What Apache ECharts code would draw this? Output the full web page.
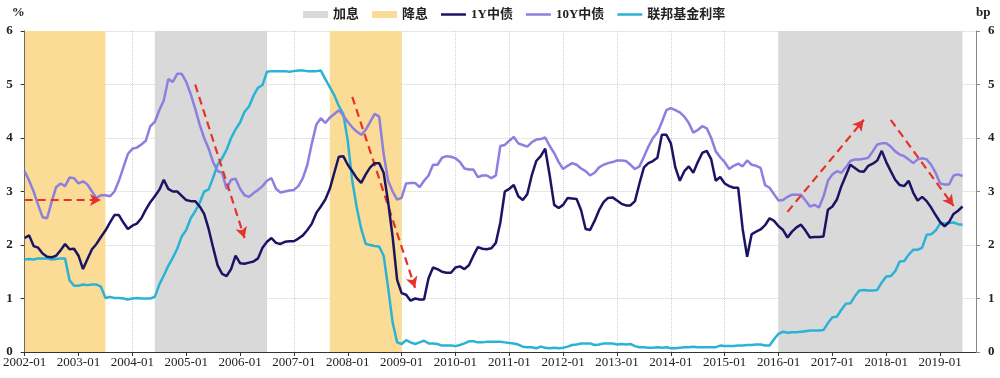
<!DOCTYPE html>
<html><head><meta charset="utf-8">
<script src="https://cdn.jsdelivr.net/npm/echarts@6/dist/echarts.min.js"></script>
<style>html,body{margin:0;padding:0;background:#fff}#c{width:1000px;height:378px}</style>
</head><body><div id="c"></div>
<script>
// monthly categories 2002-01 .. 2019-09 (axis runs a little past the last data month)
const months = [];
for (let y = 2002; y <= 2019; y++) {
  for (let m = 1; m <= 12; m++) {
    if (y === 2019 && m > 9) break;
    months.push(y + '-' + String(m).padStart(2, '0'));
  }
}

// 1Y China government bond yield (%), monthly from 2002-01
const cny1y = [
  2.13,2.18,1.98,1.95,1.84,1.78,1.77,1.80,1.90,2.02,1.92,1.93, // 2002
  1.80,1.55,1.74,1.92,2.02,2.15,2.27,2.42,2.56,2.56,2.42,2.30, // 2003
  2.36,2.40,2.50,2.66,2.80,2.91,3.03,3.22,3.05,3.00,3.00,2.92, // 2004
  2.84,2.82,2.82,2.72,2.58,2.30,1.95,1.62,1.46,1.42,1.55,1.80, // 2005
  1.66,1.65,1.67,1.69,1.75,1.95,2.06,2.13,2.04,2.02,2.06,2.07, // 2006
  2.07,2.12,2.18,2.28,2.40,2.60,2.72,2.85,3.05,3.35,3.65,3.66, // 2007
  3.50,3.38,3.25,3.16,3.32,3.45,3.53,3.53,3.35,2.80,2.15,1.35, // 2008
  1.10,1.07,0.96,1.00,0.98,0.98,1.38,1.58,1.55,1.50,1.48,1.48, // 2009
  1.58,1.60,1.55,1.62,1.80,1.96,1.93,1.92,1.94,2.04,2.42,3.00, // 2010
  3.05,3.12,2.91,2.84,2.95,3.30,3.57,3.66,3.80,3.30,2.75,2.69, // 2011
  2.75,2.88,2.87,2.86,2.65,2.30,2.28,2.45,2.65,2.80,2.88,2.89, // 2012
  2.83,2.77,2.74,2.74,2.82,3.15,3.45,3.53,3.57,3.63,4.06,4.06, // 2013
  3.90,3.45,3.20,3.38,3.47,3.35,3.55,3.72,3.76,3.60,3.20,3.27, // 2014
  3.15,3.10,3.07,3.07,2.30,1.78,2.20,2.25,2.29,2.37,2.50,2.45, // 2015
  2.35,2.28,2.14,2.25,2.33,2.38,2.27,2.14,2.15,2.15,2.16,2.66, // 2016
  2.72,2.85,3.10,3.30,3.50,3.44,3.38,3.37,3.48,3.52,3.58,3.76, // 2017
  3.55,3.38,3.22,3.12,3.10,3.20,2.98,2.83,2.90,2.82,2.70,2.56, // 2018
  2.43,2.35,2.43,2.58,2.64,2.72                                // 2019
];

// 10Y China government bond yield (%)
const cny10y = [
  3.38,3.20,3.00,2.75,2.52,2.50,2.80,3.08,3.15,3.10,3.26,3.25, // 2002
  3.15,3.19,3.13,3.00,2.88,2.93,2.93,2.91,3.00,3.20,3.45,3.70, // 2003
  3.80,3.82,3.88,3.95,4.22,4.30,4.52,4.70,5.10,5.05,5.20,5.20, // 2004
  5.05,4.82,4.55,4.25,4.00,3.80,3.55,3.38,3.35,3.05,3.22,3.24, // 2005
  3.05,2.93,2.90,2.97,3.03,3.10,3.20,3.25,3.05,2.98,3.00,3.02, // 2006
  3.03,3.10,3.25,3.50,3.90,4.25,4.37,4.28,4.38,4.45,4.52,4.42, // 2007
  4.30,4.20,4.12,4.06,4.15,4.30,4.45,4.40,3.70,3.20,3.00,2.85, // 2008
  2.88,3.15,3.16,3.16,3.08,3.20,3.30,3.50,3.50,3.63,3.66,3.65, // 2009
  3.62,3.55,3.43,3.41,3.41,3.27,3.30,3.30,3.25,3.30,3.85,3.87, // 2010
  3.95,4.02,3.90,3.87,3.84,3.92,3.97,3.98,4.01,3.85,3.72,3.55, // 2011
  3.42,3.48,3.53,3.50,3.43,3.38,3.30,3.35,3.45,3.50,3.53,3.55, // 2012
  3.58,3.58,3.57,3.50,3.42,3.47,3.65,3.84,4.00,4.10,4.30,4.52, // 2013
  4.56,4.52,4.48,4.40,4.28,4.10,4.15,4.22,4.18,4.00,3.75,3.64, // 2014
  3.55,3.42,3.48,3.52,3.47,3.58,3.50,3.48,3.44,3.12,3.07,2.95, // 2015
  2.83,2.84,2.90,2.94,2.94,2.94,2.83,2.72,2.75,2.70,2.90,3.20, // 2016
  3.32,3.38,3.35,3.45,3.57,3.60,3.60,3.61,3.63,3.75,3.88,3.90, // 2017
  3.90,3.84,3.75,3.69,3.66,3.60,3.53,3.60,3.62,3.60,3.50,3.35, // 2018
  3.15,3.13,3.13,3.30,3.32,3.29                                // 2019
];

// Federal funds rate (%)
const fedFunds = [
  1.73,1.74,1.73,1.75,1.75,1.75,1.73,1.74,1.75,1.75,1.34,1.24, // 2002
  1.24,1.26,1.25,1.26,1.26,1.22,1.01,1.03,1.01,1.01,1.00,0.98, // 2003
  1.00,1.01,1.00,1.00,1.00,1.03,1.26,1.43,1.61,1.76,1.93,2.16, // 2004
  2.28,2.50,2.63,2.79,3.00,3.04,3.26,3.50,3.62,3.78,4.00,4.16, // 2005
  4.29,4.49,4.59,4.79,4.94,4.99,5.24,5.25,5.25,5.25,5.25,5.24, // 2006
  5.25,5.26,5.26,5.25,5.25,5.25,5.26,5.10,4.95,4.80,4.60,4.45, // 2007
  3.95,3.20,2.70,2.30,2.02,2.00,1.98,1.97,1.80,1.20,0.55,0.18, // 2008
  0.15,0.22,0.18,0.15,0.18,0.21,0.16,0.16,0.15,0.12,0.12,0.12, // 2009
  0.11,0.13,0.16,0.20,0.20,0.18,0.18,0.19,0.19,0.19,0.19,0.18, // 2010
  0.17,0.16,0.14,0.10,0.09,0.09,0.07,0.10,0.08,0.07,0.08,0.07, // 2011
  0.08,0.10,0.13,0.14,0.16,0.16,0.16,0.13,0.14,0.16,0.16,0.16, // 2012
  0.14,0.15,0.14,0.15,0.11,0.09,0.09,0.08,0.08,0.09,0.08,0.09, // 2013
  0.07,0.07,0.08,0.09,0.09,0.10,0.09,0.09,0.09,0.09,0.09,0.12, // 2014
  0.11,0.11,0.11,0.12,0.12,0.13,0.13,0.14,0.14,0.12,0.12,0.24, // 2015
  0.34,0.38,0.36,0.37,0.37,0.38,0.39,0.40,0.40,0.40,0.41,0.54, // 2016
  0.65,0.66,0.79,0.90,0.91,1.04,1.15,1.16,1.15,1.15,1.16,1.30, // 2017
  1.41,1.42,1.51,1.69,1.70,1.82,1.91,1.91,1.95,2.19,2.20,2.27, // 2018
  2.40,2.40,2.41,2.42,2.39,2.38                                // 2019
];

// shaded periods
const hikePeriods = [['2004-06', '2006-07'], ['2016-01', '2019-06']];
const cutPeriods  = [['2002-01', '2003-07'], ['2007-09', '2009-01']];

// annotation arrows: [start month, start value] -> [end month, end value]
const arrowFrom = [['2002-01', 2.84], ['2005-03', 5.00], ['2008-02', 4.77], ['2016-03', 2.62], ['2018-02', 4.34]];
const arrowTo   = [['2003-06', 2.84], ['2006-02', 2.13], ['2009-04', 1.20], ['2017-08', 4.34], ['2019-04', 2.73]];

const C_HIKE = '#d9d9d9', C_CUT = '#fadc96';
const C_1Y = '#1b1464', C_10Y = '#8c7fe0', C_FED = '#2bb3d6';
const serif = '"Liberation Serif", "Times New Roman", serif';
const yearTick = (i) => i % 12 === 0;
const lineIcon = 'path://M0,0H10V1H0Z';

const chart = echarts.init(document.getElementById('c'), null, { renderer: 'canvas' });
chart.setOption({
  animation: false,
  backgroundColor: '#fff',
  grid: { left: 21, right: 24, top: 31, bottom: 26, containLabel: false },
  legend: {
    left: 298, top: 3, itemWidth: 25, itemHeight: 7, itemGap: 13,
    textStyle: { fontFamily: '"Liberation Serif", "Noto Sans CJK SC", serif', fontSize: 13, fontWeight: 'bold', color: '#222' },
    data: [
      { name: '加息', icon: 'rect' },
      { name: '降息', icon: 'rect' },
      { name: '1Y中债', icon: lineIcon },
      { name: '10Y中债', icon: lineIcon },
      { name: '联邦基金利率', icon: lineIcon }
    ]
  },
  xAxis: {
    type: 'category', data: months, boundaryGap: false,
    axisLine: { lineStyle: { color: '#333', width: 1 } },
    axisTick: { interval: yearTick, length: 4, lineStyle: { color: '#333' } },
    axisLabel: { interval: yearTick, margin: 4, fontFamily: serif, fontSize: 13, color: '#222' },
    splitLine: { show: true, interval: yearTick, lineStyle: { type: 'dotted', color: '#cfcfcf' } }
  },
  yAxis: [
    {
      type: 'value', min: 0, max: 6, interval: 1,
      name: '%', nameLocation: 'end', nameGap: 12,
      nameTextStyle: { align: 'right', fontFamily: serif, fontSize: 13, fontWeight: 'bold', color: '#222' },
      axisLine: { show: true, lineStyle: { color: '#333' } },
      axisTick: { show: true, length: 4, lineStyle: { color: '#333' } },
      axisLabel: { margin: 12, fontFamily: serif, fontSize: 13, fontWeight: 'bold', color: '#222' },
      splitLine: { show: true, lineStyle: { type: 'dotted', color: '#cfcfcf' } }
    },
    {
      type: 'value', min: 0, max: 6, interval: 1, position: 'right',
      name: 'bp', nameLocation: 'end', nameGap: 12,
      nameTextStyle: { align: 'left', fontFamily: serif, fontSize: 13, fontWeight: 'bold', color: '#222' },
      axisLine: { show: true, lineStyle: { color: '#888' } },
      axisTick: { show: true, length: 4, lineStyle: { color: '#888' } },
      axisLabel: { margin: 12, fontFamily: serif, fontSize: 13, fontWeight: 'bold', color: '#222' },
      splitLine: { show: false }
    }
  ],
  series: [
    {
      name: '加息', type: 'line', data: [], symbol: 'none',
      itemStyle: { color: C_HIKE }, lineStyle: { color: C_HIKE },
      markArea: { silent: true, itemStyle: { color: C_HIKE }, data: hikePeriods.map(p => [{ xAxis: p[0] }, { xAxis: p[1] }]) }
    },
    {
      name: '降息', type: 'line', data: [], symbol: 'none',
      itemStyle: { color: C_CUT }, lineStyle: { color: C_CUT },
      markArea: { silent: true, itemStyle: { color: C_CUT }, data: cutPeriods.map(p => [{ xAxis: p[0] }, { xAxis: p[1] }]) }
    },
    {
      name: '联邦基金利率', type: 'line', data: fedFunds, symbol: 'none', z: 3,
      itemStyle: { color: C_FED }, lineStyle: { color: C_FED, width: 2.5 }
    },
    {
      name: '10Y中债', type: 'line', data: cny10y, symbol: 'none', z: 4,
      itemStyle: { color: C_10Y }, lineStyle: { color: C_10Y, width: 2.5 }
    },
    {
      name: '1Y中债', type: 'line', data: cny1y, symbol: 'none', z: 5,
      itemStyle: { color: C_1Y }, lineStyle: { color: C_1Y, width: 2.5 }
    },
    {
      name: 'arrows', type: 'line', data: [], z: 6,
      markLine: {
        silent: true, symbol: ['none', 'arrow'], symbolSize: [9, 11],
        label: { show: false },
        lineStyle: { color: '#e5322a', type: [8, 5], width: 2.2 },
        data: arrowFrom.map((f, i) => [{ coord: f }, { coord: arrowTo[i] }])
      }
    }
  ]
});
</script>
</body></html>
